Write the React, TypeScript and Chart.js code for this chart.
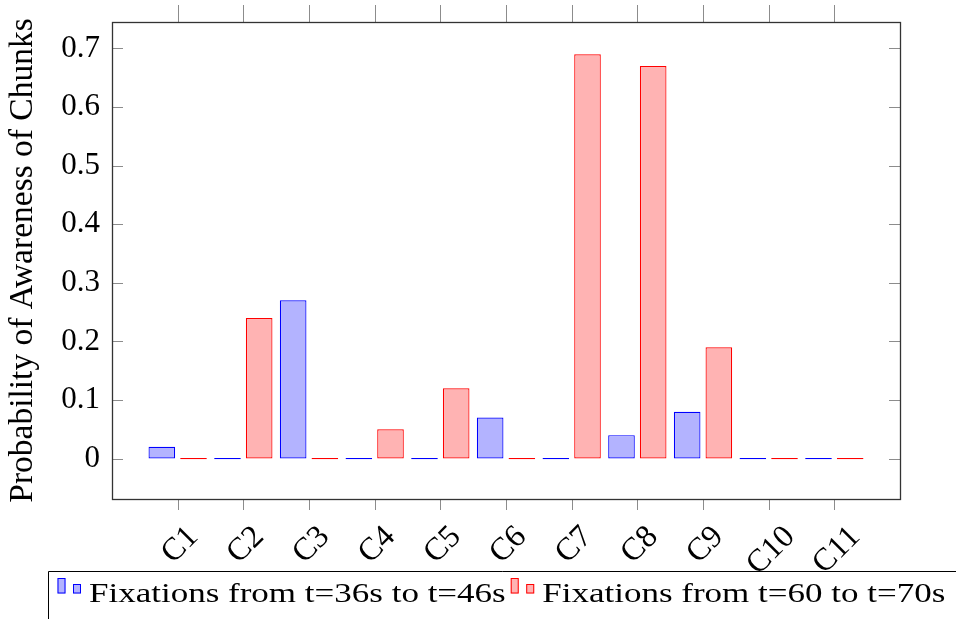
import React, { useEffect, useRef } from 'react';
import { Chart, registerables } from 'chart.js';

Chart.register(...registerables);

// ---- data ----
const CATEGORIES = ['C1', 'C2', 'C3', 'C4', 'C5', 'C6', 'C7', 'C8', 'C9', 'C10', 'C11'];
const SERIES_A_LABEL = 'Fixations from t=36s to t=46s';
const SERIES_B_LABEL = 'Fixations from t=60 to t=70s';
const SERIES_A = [0.02, 0, 0.27, 0, 0, 0.07, 0, 0.04, 0.08, 0, 0];
const SERIES_B = [0, 0.24, 0, 0.05, 0.12, 0, 0.69, 0.67, 0.19, 0, 0];
const Y_TICKS = [0, 0.1, 0.2, 0.3, 0.4, 0.5, 0.6, 0.7];
const Y_TICK_LABELS = ['0', '0.1', '0.2', '0.3', '0.4', '0.5', '0.6', '0.7'];
const Y_MIN = -0.069;
const Y_MAX = 0.745;
const Y_TITLE = 'Probability of Awareness of Chunks';

// ---- style ----
const FONT = '"Liberation Serif", "Times New Roman", serif';
const BLUE_FILL = 'rgb(179,179,255)';
const BLUE_LINE = 'rgb(0,0,255)';
const RED_FILL = 'rgb(255,179,179)';
const RED_LINE = 'rgb(255,0,0)';
const TICK_COLOR = '#8c8c8c';
const FRAME_COLOR = '#333333';
const X_FONT = 32;
const LEGEND_FONT = 28;
const LEGEND_STRETCH = 1.25;

const pgfPlugin = {
  id: 'pgfDecor',
  afterDatasetsDraw(chart: any) {
    const { ctx, chartArea: a, scales } = chart;
    const xs = scales.x;
    const ys = scales.y;
    ctx.save();
    ctx.strokeStyle = TICK_COLOR;
    ctx.lineWidth = 1;
    ctx.beginPath();
    Y_TICKS.forEach((v) => {
      const py = Math.round(ys.getPixelForValue(v)) + 0.5;
      ctx.moveTo(a.left, py);
      ctx.lineTo(a.left + 11, py);
      ctx.moveTo(a.right, py);
      ctx.lineTo(a.right - 11, py);
    });
    CATEGORIES.forEach((_c, i) => {
      const px = Math.round(xs.getPixelForValue(i + 1)) + 0.5;
      ctx.moveTo(px, a.bottom);
      ctx.lineTo(px, a.bottom + 11);
      ctx.moveTo(px, a.top);
      ctx.lineTo(px, a.top - 17);
    });
    ctx.stroke();
    ctx.strokeStyle = FRAME_COLOR;
    ctx.lineWidth = 1.3;
    ctx.strokeRect(a.left + 0.5, a.top + 0.5, a.right - a.left, a.bottom - a.top);
    ctx.restore();
  },
  afterDraw(chart: any) {
    const { ctx, chartArea: a, scales } = chart;
    const xs = scales.x;
    ctx.save();
    // rotated x tick labels, centred under each tick
    ctx.font = `${X_FONT}px ${FONT}`;
    ctx.fillStyle = '#000';
    const capH = X_FONT * 0.66;
    CATEGORIES.forEach((c, i) => {
      const px = xs.getPixelForValue(i + 1);
      const w = ctx.measureText(c).width;
      const cx = px + 1;
      const cy = a.bottom + 24 + (w + capH) / (2 * Math.SQRT2);
      ctx.save();
      ctx.translate(cx, cy);
      ctx.rotate(-Math.PI / 4);
      ctx.textAlign = 'center';
      ctx.textBaseline = 'alphabetic';
      ctx.fillText(c, 0, capH / 2);
      ctx.restore();
    });

    // legend (pgfplots style box, cut by the page edges)
    const lx = 48.5;
    const ly = 571.5;
    ctx.strokeStyle = '#000';
    ctx.lineWidth = 1;
    ctx.beginPath();
    ctx.moveTo(lx, chart.height + 2);
    ctx.lineTo(lx, ly);
    ctx.lineTo(chart.width + 2, ly);
    ctx.stroke();

    ctx.font = `${LEGEND_FONT}px ${FONT}`;
    ctx.textAlign = 'left';
    ctx.textBaseline = 'alphabetic';
    let cursor = 57.5;
    chart.data.datasets.forEach((ds: any) => {
      ctx.fillStyle = ds.backgroundColor;
      ctx.strokeStyle = ds.borderColor;
      ctx.lineWidth = 1;
      ctx.fillRect(cursor, 578, 8, 15.5);
      ctx.strokeRect(cursor + 0.5, 578.5, 7, 14.5);
      ctx.fillRect(cursor + 15.5, 584, 8, 9.5);
      ctx.strokeRect(cursor + 16, 584.5, 7, 8.5);
      const tx = cursor + 31.5;
      const tw = ctx.measureText(ds.label).width * LEGEND_STRETCH;
      ctx.save();
      ctx.translate(tx, 602);
      ctx.scale(LEGEND_STRETCH, 1);
      ctx.fillStyle = '#000';
      ctx.fillText(ds.label, 0, 0);
      ctx.restore();
      cursor = tx + tw + 5;
    });
    ctx.restore();
  },
};

export default function App() {
  const ref = useRef<HTMLCanvasElement>(null);

  useEffect(() => {
    const canvas = ref.current;
    if (!canvas) return;
    const chart = new Chart(canvas, {
      type: 'bar',
      data: {
        labels: ['', ...CATEGORIES, ''],
        datasets: [
          {
            label: SERIES_A_LABEL,
            data: [null, ...SERIES_A, null],
            backgroundColor: BLUE_FILL,
            borderColor: BLUE_LINE,
            borderWidth: 1.2,
            borderSkipped: false,
            minBarLength: 1.2,
            categoryPercentage: 0.965,
            barPercentage: 0.84,
          },
          {
            label: SERIES_B_LABEL,
            data: [null, ...SERIES_B, null],
            backgroundColor: RED_FILL,
            borderColor: RED_LINE,
            borderWidth: 1.2,
            borderSkipped: false,
            minBarLength: 1.2,
            categoryPercentage: 0.965,
            barPercentage: 0.84,
          },
        ],
      } as any,
      options: {
        responsive: false,
        animation: false,
        devicePixelRatio: 1,
        layout: { padding: { top: 22, right: 56, left: 0, bottom: 0 } },
        plugins: {
          legend: { display: false },
          tooltip: { enabled: false },
        },
        scales: {
          x: {
            type: 'category',
            offset: false,
            grid: { display: false, drawTicks: false },
            border: { display: false },
            ticks: { display: false },
            afterFit: (s: any) => {
              s.height = 120;
              s.paddingLeft = 0;
              s.paddingRight = 0;
            },
          },
          y: {
            type: 'linear',
            min: Y_MIN,
            max: Y_MAX,
            grid: { display: false, drawTicks: false },
            border: { display: false },
            afterBuildTicks: (s: any) => {
              s.ticks = Y_TICKS.map((v) => ({ value: v }));
            },
            afterFit: (s: any) => {
              s.width = 112;
              s.paddingTop = 0;
              s.paddingBottom = 0;
            },
            ticks: {
              color: '#000',
              padding: 12,
              font: { family: FONT, size: 31 },
              callback: (_v: any, i: number) => Y_TICK_LABELS[i],
            },
            title: {
              display: true,
              text: Y_TITLE,
              color: '#000',
              font: { family: FONT, size: 33.5 },
              padding: { top: 3.5, bottom: 0 },
            },
          },
        },
      } as any,
      plugins: [pgfPlugin],
    });
    return () => chart.destroy();
  }, []);

  return (
    <div style={{ position: 'fixed', left: 0, top: 0, width: 956, height: 619, background: '#fff' }}>
      <canvas ref={ref} width={956} height={619} style={{ display: 'block' }} />
    </div>
  );
}
